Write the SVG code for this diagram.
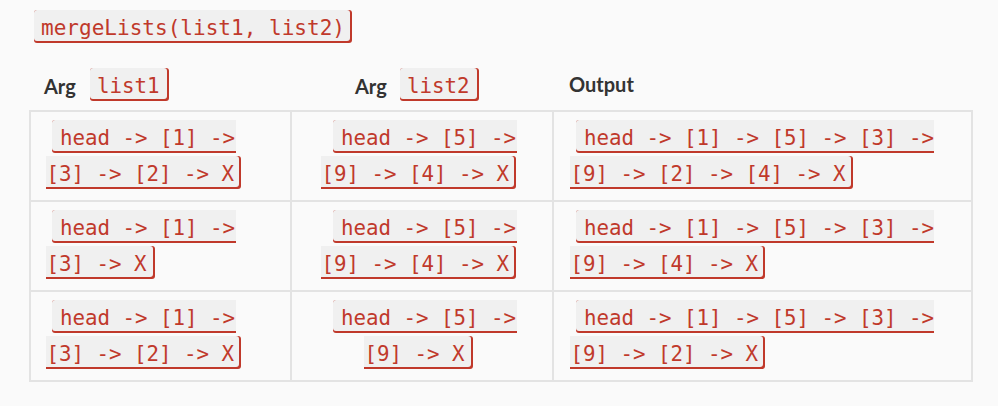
<svg xmlns="http://www.w3.org/2000/svg" xmlns:xlink="http://www.w3.org/1999/xlink" width="998" height="406" viewBox="0 0 998 406">
  <style>
    .bd { fill: #c0392b; }
    .bg { fill: #f0f0f0; }
    .code { font-family: "DejaVu Sans Mono", "Liberation Mono", monospace; font-size: 20.8px; fill: #c0392b; }
    .hdr { font-family: Lato, "Open Sans", "Liberation Sans", sans-serif; font-weight: 700; font-size: 20px; fill: #333333; }
    .grid { fill: none; stroke: #e3e3e3; stroke-width: 2; }
  </style>
  <defs>
    <g id="f1-14">
      <path class="bd" d="M3 0h181v33h-181a3 3 0 0 1-3-3v-27a3 3 0 0 1 3-3z"/>
      <path class="bg" d="M3 0h181v31h-181a3 3 0 0 1-3-3v-25a3 3 0 0 1 3-3z"/>
    </g>
    <g id="f1-28">
      <path class="bd" d="M3 0h355v33h-355a3 3 0 0 1-3-3v-27a3 3 0 0 1 3-3z"/>
      <path class="bg" d="M3 0h355v31h-355a3 3 0 0 1-3-3v-25a3 3 0 0 1 3-3z"/>
    </g>
    <g id="f2-8">
      <path class="bd" d="M0 0h106a3 3 0 0 1 3 3v27a3 3 0 0 1-3 3h-106z"/>
      <path class="bg" d="M0 0h104a3 3 0 0 1 3 3v25a3 3 0 0 1-3 3h-104z"/>
    </g>
    <g id="f2-15">
      <path class="bd" d="M0 0h192a3 3 0 0 1 3 3v27a3 3 0 0 1-3 3h-192z"/>
      <path class="bg" d="M0 0h190a3 3 0 0 1 3 3v25a3 3 0 0 1-3 3h-190z"/>
    </g>
    <g id="f2-22">
      <path class="bd" d="M0 0h280a3 3 0 0 1 3 3v27a3 3 0 0 1-3 3h-280z"/>
      <path class="bg" d="M0 0h278a3 3 0 0 1 3 3v25a3 3 0 0 1-3 3h-278z"/>
    </g>
  </defs>

  <rect width="998" height="406" fill="#fafafa"/>

  <g id="title">
    <rect class="bd" x="34" y="10" width="318" height="33" rx="3"/>
    <rect class="bg" x="34" y="10" width="316" height="31" rx="3"/>
    <text class="code" x="41" y="34.5" textLength="304" lengthAdjust="spacingAndGlyphs">mergeLists(list1, list2)</text>
  </g>

  <g id="header-list1">
    <text class="hdr" x="44" y="94">Arg</text>
    <rect class="bd" x="90" y="68" width="79" height="33" rx="3"/>
    <rect class="bg" x="90" y="68" width="77" height="31" rx="3"/>
    <text class="code" x="97" y="92.5" textLength="62.5">list1</text>
  </g>

  <g id="header-list2">
    <text class="hdr" x="355" y="94">Arg</text>
    <rect class="bd" x="400" y="68" width="79" height="33" rx="3"/>
    <rect class="bg" x="400" y="68" width="77" height="31" rx="3"/>
    <text class="code" x="407" y="92.5" textLength="62.5">list2</text>
  </g>

  <g id="header-output">
    <text class="hdr" x="569" y="92">Output</text>
  </g>

  <g id="table-grid">
    <rect class="grid" x="30" y="111" width="942" height="270"/>
    <line class="grid" x1="291" y1="111" x2="291" y2="381"/>
    <line class="grid" x1="553" y1="111" x2="553" y2="381"/>
    <line class="grid" x1="30" y1="201" x2="972" y2="201"/>
    <line class="grid" x1="30" y1="291" x2="972" y2="291"/>
  </g>

  <!-- Row 1 -->
  <g id="cell-r1-list1">
    <use xlink:href="#f1-14" x="52" y="120"/>
    <use xlink:href="#f2-15" x="46" y="156"/>
    <text class="code" x="60" y="144.5" textLength="175">head -&gt; [1] -&gt;</text>
    <text class="code" x="46.5" y="180.5" textLength="187.5">[3] -&gt; [2] -&gt; X</text>
  </g>
  <g id="cell-r1-list2">
    <use xlink:href="#f1-14" x="333" y="120"/>
    <use xlink:href="#f2-15" x="321" y="156"/>
    <text class="code" x="341" y="144.5" textLength="175">head -&gt; [5] -&gt;</text>
    <text class="code" x="321.5" y="180.5" textLength="187.5">[9] -&gt; [4] -&gt; X</text>
  </g>
  <g id="cell-r1-output">
    <use xlink:href="#f1-28" x="576" y="120"/>
    <use xlink:href="#f2-22" x="570" y="156"/>
    <text class="code" x="584" y="144.5" textLength="350">head -&gt; [1] -&gt; [5] -&gt; [3] -&gt;</text>
    <text class="code" x="570.5" y="180.5" textLength="275">[9] -&gt; [2] -&gt; [4] -&gt; X</text>
  </g>

  <!-- Row 2 -->
  <g id="cell-r2-list1">
    <use xlink:href="#f1-14" x="52" y="210"/>
    <use xlink:href="#f2-8" x="46" y="246"/>
    <text class="code" x="60" y="234.5" textLength="175">head -&gt; [1] -&gt;</text>
    <text class="code" x="46.5" y="270.5" textLength="100">[3] -&gt; X</text>
  </g>
  <g id="cell-r2-list2">
    <use xlink:href="#f1-14" x="333" y="210"/>
    <use xlink:href="#f2-15" x="321" y="246"/>
    <text class="code" x="341" y="234.5" textLength="175">head -&gt; [5] -&gt;</text>
    <text class="code" x="321.5" y="270.5" textLength="187.5">[9] -&gt; [4] -&gt; X</text>
  </g>
  <g id="cell-r2-output">
    <use xlink:href="#f1-28" x="576" y="210"/>
    <use xlink:href="#f2-15" x="570" y="246"/>
    <text class="code" x="584" y="234.5" textLength="350">head -&gt; [1] -&gt; [5] -&gt; [3] -&gt;</text>
    <text class="code" x="570.5" y="270.5" textLength="187.5">[9] -&gt; [4] -&gt; X</text>
  </g>

  <!-- Row 3 -->
  <g id="cell-r3-list1">
    <use xlink:href="#f1-14" x="52" y="300"/>
    <use xlink:href="#f2-15" x="46" y="336"/>
    <text class="code" x="60" y="324.5" textLength="175">head -&gt; [1] -&gt;</text>
    <text class="code" x="46.5" y="360.5" textLength="187.5">[3] -&gt; [2] -&gt; X</text>
  </g>
  <g id="cell-r3-list2">
    <use xlink:href="#f1-14" x="333" y="300"/>
    <use xlink:href="#f2-8" x="364" y="336"/>
    <text class="code" x="341" y="324.5" textLength="175">head -&gt; [5] -&gt;</text>
    <text class="code" x="364.5" y="360.5" textLength="100">[9] -&gt; X</text>
  </g>
  <g id="cell-r3-output">
    <use xlink:href="#f1-28" x="576" y="300"/>
    <use xlink:href="#f2-15" x="570" y="336"/>
    <text class="code" x="584" y="324.5" textLength="350">head -&gt; [1] -&gt; [5] -&gt; [3] -&gt;</text>
    <text class="code" x="570.5" y="360.5" textLength="187.5">[9] -&gt; [2] -&gt; X</text>
  </g>
</svg>
